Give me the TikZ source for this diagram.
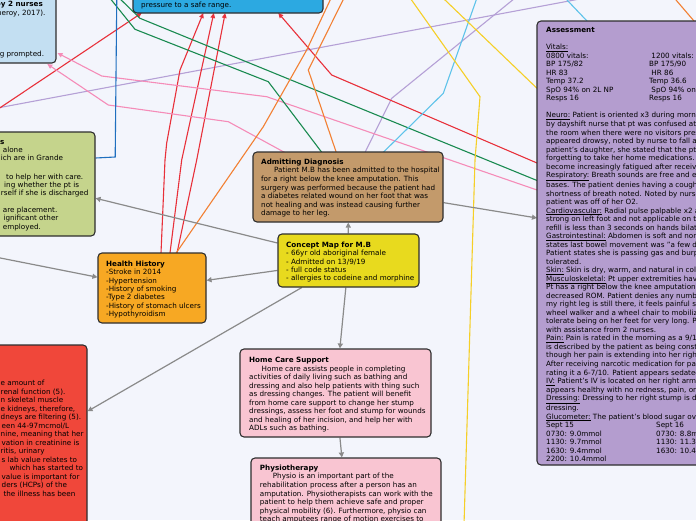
\documentclass[tikz,border=0pt]{standalone}
\usepackage{fontspec}
\setmainfont{DejaVu Sans}
\usetikzlibrary{arrows.meta,calc}
\pgfdeclarelayer{bg}
\pgfsetlayers{bg,main}
\definecolor{tlB}{HTML}{C3DFF2}
\definecolor{tbB}{HTML}{2CA9E1}
\definecolor{grG}{HTML}{C5D48C}
\definecolor{adT}{HTML}{C39A6B}
\definecolor{cmY}{HTML}{E8DA1E}
\definecolor{hhO}{HTML}{F7A823}
\definecolor{asP}{HTML}{B49DCF}
\definecolor{rdR}{HTML}{F0473A}
\definecolor{pkP}{HTML}{F9C5D2}
\definecolor{bord}{HTML}{2E2E2E}
\definecolor{conn}{HTML}{8A8A8A}
\definecolor{lnRed}{HTML}{E8303A}
\definecolor{lnPink}{HTML}{F58CB8}
\definecolor{lnGreen}{HTML}{1A8A50}
\definecolor{lnBlue}{HTML}{1F6FBF}
\definecolor{lnOrange}{HTML}{F28033}
\definecolor{lnLav}{HTML}{B5A0D6}
\definecolor{lnSky}{HTML}{5EC3EA}
\definecolor{lnYel}{HTML}{F5CF27}
\definecolor{paper}{HTML}{F3F5FC}
\newcommand\asrow[2]{\makebox[103pt][l]{#1}#2}
\newcommand\glrow[2]{\makebox[110pt][l]{#1}#2}
\begin{document}
\begin{tikzpicture}[x=1pt,y=-1pt,
  font=\fontsize{7.2}{8.52}\selectfont,
  box/.style={draw=bord,line width=1.1pt,rounded corners=4pt,inner sep=0pt},
  txt/.style={inner sep=0pt,align=left,anchor=north west},
  frag/.style={inner sep=0pt,anchor=base west},
  fragr/.style={inner sep=0pt,anchor=base east},
  gcon/.style={draw=conn,line width=1.2pt,-{Triangle[length=5pt,width=5pt]}},
  cline/.style={line width=1.1pt},
  carrow/.style={line width=1.1pt,-{Triangle[length=5pt,width=4.5pt]}}]
\clip (0,0) rectangle (696,520);
% boxes
\node[box,fill=tlB,minimum width=76pt,minimum height=83pt] (tl) at (18,21.5) {};
\node[box,fill=tbB,minimum width=190pt,minimum height=33pt] (tb) at (228,-3.5) {};
\node[box,fill=grG,minimum width=115pt,minimum height=104pt] (gr) at (37.5,184) {};
\node[box,fill=adT,minimum width=190pt,minimum height=70pt] (ad) at (348,187) {};
\node[box,fill=cmY,minimum width=141pt,minimum height=53pt] (cm) at (348.5,260.5) {};
\node[box,fill=hhO,minimum width=108pt,minimum height=70pt] (hh) at (152,288) {};
\node[box,fill=asP,minimum width=183pt,minimum height=444pt] (as) at (628.5,243) {};
\node[box,fill=rdR,minimum width=107pt,minimum height=195pt] (rd) at (33.5,442.5) {};
\node[box,fill=pkP,minimum width=191pt,minimum height=88pt] (hc) at (335.5,393) {};
\node[box,fill=pkP,minimum width=190pt,minimum height=82pt] (ph) at (346,499) {};
% texts
\node[fragr] (tl1) at (43,6.5) {\textbf{by 2 nurses}};
\node[fragr] (tl2) at (45.7,15.5) {(Pomeroy, 2017).};
\node[fragr] (tl3) at (44.3,56.5) {being prompted.};
\node[frag] (tb1) at (141,7.2) {pressure to a safe range.};
\node[frag] (gr1) at (0,144.8) {\textbf{s}};
\node[frag] (gr2) at (2.7,152.5) {alone};
\node[frag] (gr3) at (0.7,160.8) {ich are in Grande};
\node[frag] (gr4) at (6,179.2) {to help her with care.};
\node[frag] (gr5) at (4,187.5) {ing whether the pt is};
\node[frag] (gr6) at (0.7,195.8) {rself if she is discharged};
\node[frag] (gr7) at (2.7,212.5) {are placement.};
\node[frag] (gr8) at (3.3,220.8) {ignificant other};
\node[frag] (gr9) at (2.7,229.2) {employed.};
\node[txt] (adT) at (261,158.3) {\strut\textbf{Admitting Diagnosis}\\
\hspace*{13pt}Patient M.B has been admitted to the hospital\\
for a right below the knee amputation. This\\
surgery was performed because the patient had\\
a diabetes related wound on her foot that was\\
not healing and was instead causing further\\
damage to her leg.};
\node[txt,font=\fontsize{7.2}{8.25}\selectfont] (cmT) at (286,241.6) {\strut\textbf{Concept Map for M.B}\\
- 66yr old aboriginal female\\
- Admitted on 13/9/19\\
- full code status\\
- allergies to codeine and morphine};
\node[txt,font=\fontsize{7.2}{8.3}\selectfont] (hhT) at (106,260.6) {\strut\textbf{Health History}\\
-Stroke in 2014\\
-Hypertension\\
-History of smoking\\
-Type 2 diabetes\\
-History of stomach ulcers\\
-Hypothyroidism};
\node[txt] (hcT) at (249,356.6) {\strut\textbf{Home Care Support}\\
\hspace*{12.5pt}Home care assists people in completing\\
activities of daily living such as bathing and\\
dressing and also help patients with thing such\\
as dressing changes. The patient will benefit\\
from home care support to change her stump\\
dressings, assess her foot and stump for wounds\\
and healing of her incision, and help her with\\
ADLs such as bathing.};
\node[txt] (phT) at (259.7,464.3) {\strut\textbf{Physiotherapy}\\
\hspace*{13pt}Physio is an important part of the\\
rehabilitation process after a person has an\\
amputation. Physiotherapists can work with the\\
patient to help them achieve safe and proper\\
physical mobility (6). Furthermore, physio can\\
teach amputees range of motion exercises to};
\node[txt] (asT) at (546,26.6) {\strut\textbf{Assessment}\\
\mbox{}\\
\underline{Vitals:}\\
\asrow{0800 vitals:}{\ 1200 vitals:}\\
\asrow{BP 175/82}{BP 175/90}\\
\asrow{HR 83}{\ HR 86}\\
\asrow{Temp 37.2}{Temp 36.6}\\
\asrow{SpO 94\% on 2L NP}{\ SpO 94\% on 2L NP}\\
\asrow{Resps 16}{Resps 16}\\
\mbox{}\\
\underline{Neuro:} Patient is oriented x3 during morning\\
by dayshift nurse that pt was confused at the\\
the room when there were no visitors present\\
appeared drowsy, noted by nurse to fall asleep\\
patient's daughter, she stated that the pt has\\
forgetting to take her home medications. D\\
become increasingly fatigued after receiving\\
\underline{Respiratory:} Breath sounds are free and easy\\
bases. The patient denies having a cough and\\
shortness of breath noted. Noted by nurse\\
patient was off of her O2.\\
\underline{Cardiovascular:} Radial pulse palpable x2 and\\
strong on left foot and not applicable on the\\
refill is less than 3 seconds on hands bilaterally\\
\underline{Gastrointestinal:} Abdomen is soft and non-\\
states last bowel movement was "a few days\\
Patient states she is passing gas and burping\\
tolerated.\\
\underline{Skin:} Skin is dry, warm, and natural in color\\
\underline{Musculoskeletal:} Pt upper extremities have\\
Pt has a right below the knee amputation and\\
decreased ROM. Patient denies any numbness\\
my right leg is still there, it feels painful so\\
wheel walker and a wheel chair to mobilize\\
tolerate being on her feet for very long. Pa\\
with assistance from 2 nurses.\\
\underline{Pain:} Pain is rated in the morning as a 9/10\\
is described by the patient as being constant\\
though her pain is extending into her right\\
After receiving narcotic medication for pain\\
rating it a 6-7/10. Patient appears sedated\\
\underline{IV:} Patient's IV is located on her right arm\\
appears healthy with no redness, pain, or swelling\\
\underline{Dressing:} Dressing to her right stump is dry\\
dressing.\\
\underline{Glucometer:} The patient's blood sugar over\\
\glrow{Sept 15}{Sept 16}\\
\glrow{0730: 9.0mmol}{0730: 8.8mmol}\\
\glrow{1130: 9.7mmol}{1130: 11.3mmol}\\
\glrow{1630: 9.4mmol}{1630: 10.4mmol}\\
2200: 10.4mmol};
\node[frag] (rd1) at (0.5,385.8) {e amount of};
\node[frag] (rd2) at (0.5,394.3) {renal function (5).};
\node[frag] (rd3) at (0.5,402.8) {n skeletal muscle};
\node[frag] (rd4) at (0.5,411.3) {e kidneys, therefore,};
\node[frag] (rd5) at (0.5,419.8) {dneys are filtering (5).};
\node[frag] (rd6) at (1.5,428.3) {een 44-97mcmol/L};
\node[frag] (rd7) at (0.5,436.8) {nine, meaning that her};
\node[frag] (rd8) at (1.5,445.3) {vation in creatinine is};
\node[frag] (rd9) at (0.5,453.8) {ritis, urinary};
\node[frag] (rd10) at (1.5,462.3) {s lab value relates to};
\node[frag] (rd11) at (9.3,470.8) {which has started to};
\node[frag] (rd12) at (1.5,479.3) {value is important for};
\node[frag] (rd13) at (1.5,487.8) {ders (HCPs) of the};
\node[frag] (rd14) at (3.3,496.3) {the illness has been};
% named free ends
\coordinate (offL) at (-30,252);
\coordinate (asRed) at (537,163);
\coordinate (asGreen) at (537,180.5);
\coordinate (asPink) at (537,190);
\coordinate (asYel) at (537,88.3);
\coordinate (asGrey) at (537,218);
\coordinate (hhR1) at (161,253);
\coordinate (hhR2) at (170,253);
\coordinate (hhR3) at (177,253);
\coordinate (tbR0) at (141.7,13);
\coordinate (tbR1) at (203.3,13);
\coordinate (tbR2) at (213.8,13);
\coordinate (tbR3) at (225.2,13);
\coordinate (tbR4) at (278.3,13);
\coordinate (tlP1) at (57.5,53);
\coordinate (tlP2) at (47.3,64);
\coordinate (offB) at (464,525);
\begin{pgfonlayer}{bg}
\fill[paper] (0,0) rectangle (696,520);
% coloured cross links
\draw[cline,lnLav] (-10,109.4) -- (585,-2);
\draw[cline,lnLav] (ad.center) -- (391.7,98.3) -- (520,-6);
\draw[carrow,lnRed] (-10,114.5) -- (tbR0);
\draw[carrow,lnRed] (hhR1) -- (165,160) -- (166.7,143) -- (180,70) -- (tbR1);
\draw[carrow,lnRed] (hhR2) -- (181.7,160) -- (tbR2);
\draw[carrow,lnRed] (hhR3) -- (196.7,160) -- (tbR3);
\draw[carrow,lnRed] (asRed) -- (331.7,75) -- (tbR4);
\draw[carrow,lnPink] (asPink) -- (266.7,96.7) -- (101.7,76) -- (tlP1);
\draw[carrow,lnPink] (ad.center) -- (228.3,121.7) -- (108.3,105) -- (tlP2);
\draw[cline,lnGreen] (ad.center) -- (268.3,81.7) -- (135,29.3) -- (105,-8);
\draw[cline,lnGreen] (asGreen) -- (140,18.3) -- (114,-7);
\draw[cline,lnBlue] (116.8,-5) -- (115.2,157) -- (gr.east |- 0,158);
\draw[cline,lnOrange] (hh.center) -- (263.3,126.7) -- (306.7,50) -- (333,-6);
\draw[cline,lnOrange] (ad.center) -- (308.3,70) -- (346,-6);
\draw[cline,lnOrange] (676,0) -- (694,21);
\draw[cline,lnSky] (ad.center) -- (443.3,93.3) -- (478,-5);
\draw[cline,lnSky] (567,0) -- (587,21);
\draw[cline,lnYel] (asYel) -- (445,0) -- (440,-5);
\draw[cline,lnYel] (408,-5) -- (480,96.7) -- (475,160) -- (offB);
% grey map connectors
\draw[gcon] (cm) -- (ad);
\draw[gcon] (cm) -- (hh);
\draw[gcon] (cm) -- (gr);
\draw[gcon] (cm) -- (rd);
\draw[gcon] (cm) -- (hc);
\draw[gcon] (hc) -- (ph);
\draw[gcon] (ad) -- (asGrey);
\draw[gcon] (offL) -- (hh);
\end{pgfonlayer}
\end{tikzpicture}
\end{document}
